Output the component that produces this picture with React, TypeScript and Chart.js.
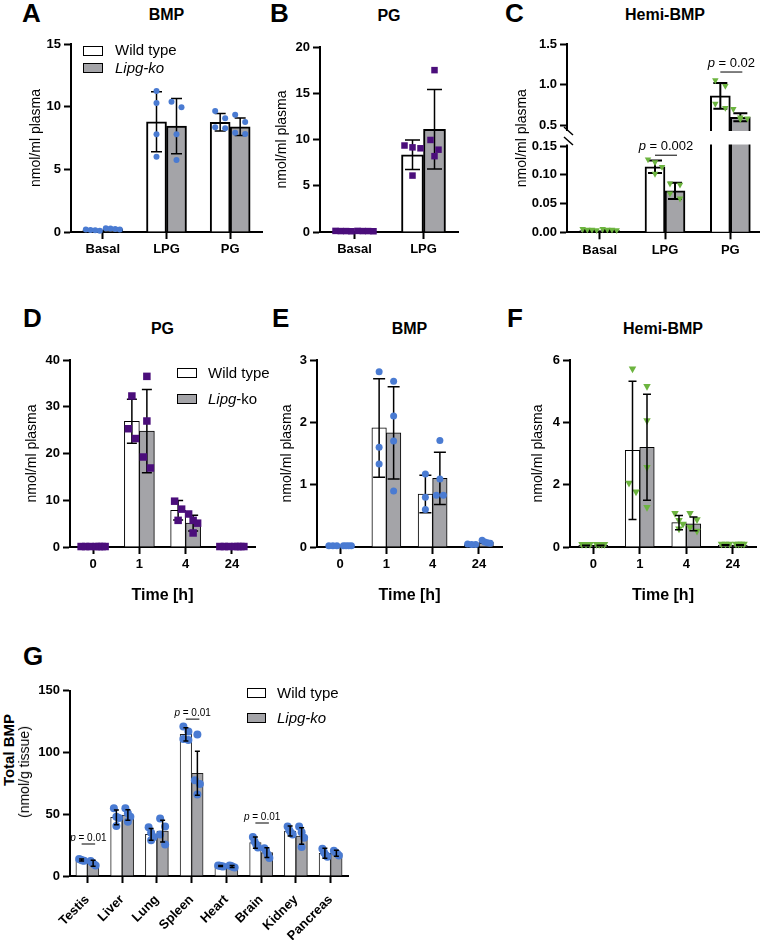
import React, { useEffect, useRef } from 'react';
import { Chart, registerables, LinearScale } from 'chart.js';

Chart.register(...registerables);

const FAM = "'Liberation Sans', Arial, Helvetica, sans-serif";
Chart.defaults.font.family = FAM;
Chart.defaults.color = '#000';

const GRAY = '#a4a4a8';
const BLUE = '#4a7bd2';
const PURPLE = '#4b0e7b';
const GREEN = '#6cb43f';

// ---------------- DATA ----------------
// Panel A – BMP
const A_CATS = ['Basal', 'LPG', 'PG'];
const A_WT_MEAN = [0.15, 8.8, 8.75];
const A_WT_SD = [0.04, 2.4, 0.7];
const A_WT_PTS = [[0.2, 0.16, 0.13, 0.1], [11.25, 10.3, 7.8, 6.0], [9.65, 9.07, 8.35, 8.27]];
const A_KO_MEAN = [0.25, 8.45, 8.4];
const A_KO_SD = [0.05, 2.2, 0.7];
const A_KO_PTS = [[0.3, 0.27, 0.23, 0.2], [10.4, 9.95, 7.8, 5.75], [9.36, 8.78, 7.92, 7.82]];

// Panel B – PG
const B_CATS = ['Basal', 'LPG'];
const B_WT_MEAN = [0.1, 8.35];
const B_WT_SD = [0.05, 1.6];
const B_WT_PTS = [[0.12, 0.1, 0.1, 0.08], [9.35, 9.15, 9.05, 6.1]];
const B_KO_MEAN = [0.1, 11.1];
const B_KO_SD = [0.05, 4.3];
const B_KO_PTS = [[0.12, 0.1, 0.1, 0.08], [17.5, 9.95, 8.9, 8.2]];

// Panel C – Hemi-BMP (broken axis)
const C_CATS = ['Basal', 'LPG', 'PG'];
const C_WT_MEAN = [0.003, 0.114, 0.86];
const C_WT_SD = [0.001, 0.011, 0.16];
const C_WT_PTS = [[0.004, 0.003, 0.003, 0.002], [0.125, 0.12, 0.112, 0.1], [1.04, 0.97, 0.75, 0.7]];
const C_KO_MEAN = [0.003, 0.072, 0.595];
const C_KO_SD = [0.001, 0.014, 0.05];
const C_KO_PTS = [[0.004, 0.003, 0.003, 0.002], [0.083, 0.081, 0.066, 0.057], [0.685, 0.58, 0.57, 0.56]];
const C_Y_TICKS = [0, 0.05, 0.1, 0.15, 0.5, 1.0, 1.5];
const C_P_VALUES = [{ cat: 1, y: 0.134, text: 'p = 0.002' }, { cat: 2, y: 1.154, text: 'p = 0.02' }];

// Time course panels
const TIME_CATS = ['0', '1', '4', '24'];
// D – PG
const D_WT_MEAN = [0.1, 26.9, 7.85, 0.1];
const D_WT_SD = [0.05, 4.7, 2.1, 0.05];
const D_WT_PTS = [[0.1, 0.1, 0.1], [32.3, 25.3, 23.2], [9.8, 8.1, 5.7], [0.1, 0.1, 0.1]];
const D_KO_MEAN = [0.1, 24.8, 5.1, 0.1];
const D_KO_SD = [0.05, 8.9, 1.7, 0.05];
const D_KO_PTS = [[0.1, 0.1, 0.1, 0.1], [36.5, 26.95, 19.25, 16.9], [7.06, 5.7, 5.1, 3.0], [0.1, 0.1, 0.1, 0.1]];
// E – BMP
const E_WT_MEAN = [0.02, 1.91, 0.85, 0.04];
const E_WT_SD = [0.005, 0.79, 0.3, 0.01];
const E_WT_PTS = [[0.02, 0.02, 0.02], [2.81, 1.6, 1.33], [1.17, 0.8, 0.6], [0.05, 0.04, 0.04]];
const E_KO_MEAN = [0.02, 1.83, 1.1, 0.08];
const E_KO_SD = [0.005, 0.74, 0.42, 0.02];
const E_KO_PTS = [[0.02, 0.02, 0.02, 0.02], [2.66, 2.1, 1.7, 0.9], [1.71, 1.09, 0.83, 0.83], [0.11, 0.08, 0.07, 0.06]];
// F – Hemi-BMP
const F_WT_MEAN = [0.05, 3.1, 0.78, 0.06];
const F_WT_SD = [0.01, 2.22, 0.23, 0.01];
const F_WT_PTS = [[0.05, 0.05, 0.05], [5.68, 2.02, 1.74], [1.05, 0.82, 0.7, 0.55], [0.06, 0.06, 0.06]];
const F_KO_MEAN = [0.05, 3.2, 0.74, 0.06];
const F_KO_SD = [0.01, 1.7, 0.22, 0.01];
const F_KO_PTS = [[0.05, 0.05, 0.05, 0.05], [5.12, 4.02, 2.52, 1.24], [1.05, 0.85, 0.6, 0.48], [0.06, 0.06, 0.06, 0.06]];

// G – Total BMP in tissues
const G_CATS = ['Testis', 'Liver', 'Lung', 'Spleen', 'Heart', 'Brain', 'Kidney', 'Pancreas'];
const G_WT_MEAN = [13, 47.5, 33.7, 114.7, 8.1, 27, 36.4, 18.4];
const G_WT_SD = [0.8, 6, 4.7, 5.4, 0.5, 4.6, 4, 4];
const G_WT_PTS = [
  [13.8, 13.2, 12.6, 12.4], [54.8, 48, 47, 40.5], [39.5, 35, 31.5, 29], [121, 117, 111, 110],
  [8.6, 8.2, 7.9, 7.6], [31.5, 28, 25.5, 23], [40, 37, 35, 33.5], [22, 19, 17, 15.5],
];
const G_KO_MEAN = [10.3, 49.4, 36.4, 83.1, 7.6, 18.9, 32.4, 18.4];
const G_KO_SD = [2.4, 4.3, 8.8, 17.8, 0.8, 4, 6.7, 2.4];
const G_KO_PTS = [
  [12.2, 10.8, 9.6, 8.6], [54.8, 50.7, 48, 44], [46.5, 40, 33.5, 25.5], [114.5, 77.5, 74.5, 66],
  [8.4, 8, 7.2, 6.8], [22.5, 20.5, 17.5, 14.5], [40, 35.5, 31, 23.5], [20.5, 19, 18, 16.5],
];
const G_P_VALUES = [{ cat: 0, y: 25.9, text: 'p = 0.01' }, { cat: 3, y: 127, text: 'p = 0.01' }, { cat: 5, y: 42.9, text: 'p = 0.01' }];

// ---------------- Broken scale for panel C ----------------
const C_LOW_TOP = 0.15;
const C_HIGH_BOTTOM = 0.4136;
const C_MAX = 1.5;
const C_LOW_SHARE = 86.3 / 188.3;
const C_GAP_SHARE = 14 / 188.3;
const C_HIGH_SHARE = 1 - C_LOW_SHARE - C_GAP_SHARE;

function brokenDecimal(v: number) {
  if (v <= C_LOW_TOP) return (v / C_LOW_TOP) * C_LOW_SHARE;
  if (v >= C_HIGH_BOTTOM) return C_LOW_SHARE + C_GAP_SHARE + ((v - C_HIGH_BOTTOM) / (C_MAX - C_HIGH_BOTTOM)) * C_HIGH_SHARE;
  return C_LOW_SHARE + ((v - C_LOW_TOP) / (C_HIGH_BOTTOM - C_LOW_TOP)) * C_GAP_SHARE;
}
function brokenValue(d: number) {
  if (d <= C_LOW_SHARE) return (d / C_LOW_SHARE) * C_LOW_TOP;
  if (d >= C_LOW_SHARE + C_GAP_SHARE) return C_HIGH_BOTTOM + ((d - C_LOW_SHARE - C_GAP_SHARE) / C_HIGH_SHARE) * (C_MAX - C_HIGH_BOTTOM);
  return C_LOW_TOP + ((d - C_LOW_SHARE) / C_GAP_SHARE) * (C_HIGH_BOTTOM - C_LOW_TOP);
}

class BrokenLinearScale extends (LinearScale as any) {
  static id = 'brokenLinear';
  static defaults = (LinearScale as any).defaults;
  getPixelForValue(value: number) {
    return (this as any).getPixelForDecimal(brokenDecimal(value));
  }
  getValueForPixel(pixel: number) {
    return brokenValue((this as any).getDecimalForPixel(pixel));
  }
}
Chart.register(BrokenLinearScale as any);

// ---------------- Panel definitions ----------------
type Series = { mean: number[]; sd: number[]; pts: number[][] };
type Panel = {
  key: string; L: number; R: number; T: number; B: number;
  yTitleX?: number; yTitle?: string; xTitle?: string; xTitleY?: number; xLabelH?: number;
  cats: string[]; wt: Series; ko: Series;
  yMin: number; yMax: number; yStep?: number; yTicks?: number[]; yFmt?: (v: number) => string;
  broken?: boolean; bar: number; border: number; borderColor: string;
  marker: 'circle' | 'square' | 'tri'; color: string; size: number; spacing: number; spread: number;
  cap: number; errWidth: number; errOnTop: boolean;
  notes: { cat: number; y: number; text: string }[]; noteSize: number; noteGap: number;
  rot: number; xFont: number; xPad: number;
};

const PANELS: Panel[] = [
  {
    key: 'A', L: 71, R: 262, T: 44, B: 232, yTitleX: 36, yTitle: 'nmol/ml plasma', xLabelH: 30,
    cats: A_CATS, wt: { mean: A_WT_MEAN, sd: A_WT_SD, pts: A_WT_PTS }, ko: { mean: A_KO_MEAN, sd: A_KO_SD, pts: A_KO_PTS },
    yMin: 0, yMax: 15, yStep: 5, bar: 20, border: 2, borderColor: '#000',
    marker: 'circle', color: BLUE, size: 6, spacing: 10, spread: 7, cap: 11, errWidth: 1.5, errOnTop: false,
    notes: [], noteSize: 13, noteGap: 5, rot: 0, xFont: 13, xPad: 3,
  },
  {
    key: 'B', L: 320, R: 458, T: 47, B: 232, yTitleX: 282, yTitle: 'nmol/ml plasma', xLabelH: 30,
    cats: B_CATS, wt: { mean: B_WT_MEAN, sd: B_WT_SD, pts: B_WT_PTS }, ko: { mean: B_KO_MEAN, sd: B_KO_SD, pts: B_KO_PTS },
    yMin: 0, yMax: 20, yStep: 5, bar: 22, border: 2, borderColor: '#000',
    marker: 'square', color: PURPLE, size: 6.5, spacing: 8, spread: 8, cap: 15, errWidth: 1.5, errOnTop: false,
    notes: [], noteSize: 13, noteGap: 5, rot: 0, xFont: 13, xPad: 3,
  },
  {
    key: 'C', L: 567, R: 763, T: 44, B: 232.3, yTitleX: 522, yTitle: 'nmol/ml plasma', xLabelH: 30,
    cats: C_CATS, wt: { mean: C_WT_MEAN, sd: C_WT_SD, pts: C_WT_PTS }, ko: { mean: C_KO_MEAN, sd: C_KO_SD, pts: C_KO_PTS },
    yMin: 0, yMax: 1.5, yTicks: C_Y_TICKS, yFmt: (v) => (v < 0.2 ? v.toFixed(2) : v.toFixed(1)),
    broken: true, bar: 20, border: 2, borderColor: '#000',
    marker: 'tri', color: GREEN, size: 6.5, spacing: 10, spread: 7, cap: 14, errWidth: 2, errOnTop: false,
    notes: C_P_VALUES, noteSize: 13, noteGap: 5, rot: 0, xFont: 13, xPad: 3,
  },
  {
    key: 'D', L: 70, R: 255, T: 360, B: 547, yTitleX: 32.5, yTitle: 'nmol/ml plasma', xTitle: 'Time [h]', xTitleY: 595,
    cats: TIME_CATS, wt: { mean: D_WT_MEAN, sd: D_WT_SD, pts: D_WT_PTS }, ko: { mean: D_KO_MEAN, sd: D_KO_SD, pts: D_KO_PTS },
    yMin: 0, yMax: 40, yStep: 10, bar: 15, border: 1, borderColor: '#000',
    marker: 'square', color: PURPLE, size: 7.5, spacing: 7, spread: 4.5, cap: 10, errWidth: 1.5, errOnTop: false,
    notes: [], noteSize: 13, noteGap: 5, rot: 0, xFont: 13, xPad: 3,
  },
  {
    key: 'E', L: 317, R: 502, T: 360, B: 547, yTitleX: 287, yTitle: 'nmol/ml plasma', xTitle: 'Time [h]', xTitleY: 595,
    cats: TIME_CATS, wt: { mean: E_WT_MEAN, sd: E_WT_SD, pts: E_WT_PTS }, ko: { mean: E_KO_MEAN, sd: E_KO_SD, pts: E_KO_PTS },
    yMin: 0, yMax: 3, yStep: 1, bar: 14.5, border: 1, borderColor: '#000',
    marker: 'circle', color: BLUE, size: 7, spacing: 7, spread: 4, cap: 12, errWidth: 1.5, errOnTop: false,
    notes: [], noteSize: 13, noteGap: 5, rot: 0, xFont: 13, xPad: 3,
  },
  {
    key: 'F', L: 570, R: 756, T: 360, B: 547, yTitleX: 538, yTitle: 'nmol/ml plasma', xTitle: 'Time [h]', xTitleY: 595,
    cats: TIME_CATS, wt: { mean: F_WT_MEAN, sd: F_WT_SD, pts: F_WT_PTS }, ko: { mean: F_KO_MEAN, sd: F_KO_SD, pts: F_KO_PTS },
    yMin: 0, yMax: 6, yStep: 2, bar: 14.5, border: 1, borderColor: '#000',
    marker: 'tri', color: GREEN, size: 7.5, spacing: 7, spread: 4, cap: 8, errWidth: 1.5, errOnTop: true,
    notes: [], noteSize: 13, noteGap: 5, rot: 0, xFont: 13, xPad: 3,
  },
  {
    key: 'G', L: 70, R: 348, T: 690.7, B: 876, xLabelH: 80,
    cats: G_CATS, wt: { mean: G_WT_MEAN, sd: G_WT_SD, pts: G_WT_PTS }, ko: { mean: G_KO_MEAN, sd: G_KO_SD, pts: G_KO_PTS },
    yMin: 0, yMax: 150, yStep: 50, bar: 11.5, border: 1, borderColor: '#222',
    marker: 'circle', color: BLUE, size: 8, spacing: 5, spread: 2.5, cap: 5, errWidth: 1.5, errOnTop: true,
    notes: G_P_VALUES, noteSize: 10, noteGap: 3, rot: 45, xFont: 13, xPad: 9,
  },
];

// ---------------- Drawing helpers ----------------
function drawMarker(ctx: CanvasRenderingContext2D, shape: string, x: number, y: number, s: number) {
  ctx.beginPath();
  if (shape === 'circle') ctx.arc(x, y, s / 2, 0, Math.PI * 2);
  else if (shape === 'square') ctx.rect(x - s / 2, y - s / 2, s, s);
  else {
    const h = s * 0.9;
    ctx.moveTo(x - s / 2, y - h / 2);
    ctx.lineTo(x + s / 2, y - h / 2);
    ctx.lineTo(x, y + h / 2);
    ctx.closePath();
  }
  ctx.fill();
}

function layoutPoints(vals: number[], cx: number, ys: any, p: Panel) {
  const items = vals.map((v) => ({ py: ys.getPixelForValue(v) })).sort((a, b) => a.py - b.py);
  const thresh = p.size * 1.5;
  const out: { x: number; y: number }[] = [];
  let i = 0;
  while (i < items.length) {
    let j = i + 1;
    while (j < items.length && items[j].py - items[i].py < thresh) j++;
    const k = j - i;
    const sp = k > 1 ? Math.min(p.spacing, (2 * p.spread) / (k - 1)) : 0;
    for (let m = 0; m < k; m++) out.push({ x: cx + (m - (k - 1) / 2) * sp, y: items[i + m].py });
    i = j;
  }
  return out;
}

function drawPValue(ctx: CanvasRenderingContext2D, cx: number, baseY: number, text: string, size: number) {
  const first = text.slice(0, 1);
  const rest = text.slice(1);
  ctx.font = `italic ${size}px ${FAM}`;
  const w1 = ctx.measureText(first).width;
  ctx.font = `${size}px ${FAM}`;
  const w2 = ctx.measureText(rest).width;
  const x = cx - (w1 + w2) / 2;
  ctx.fillStyle = '#000';
  ctx.textAlign = 'left';
  ctx.textBaseline = 'alphabetic';
  ctx.font = `italic ${size}px ${FAM}`;
  ctx.fillText(first, x, baseY);
  ctx.font = `${size}px ${FAM}`;
  ctx.fillText(rest, x + w1, baseY);
}

function decorPlugin(p: Panel) {
  return {
    id: 'decor' + p.key,
    afterDatasetsDraw(chart: any) {
      const ctx: CanvasRenderingContext2D = chart.ctx;
      const ys = chart.scales.y;
      const xs = chart.scales.x;
      const area = chart.chartArea;
      ctx.save();
      if (p.broken) {
        const yTop = ys.getPixelForValue(C_HIGH_BOTTOM);
        const yBot = ys.getPixelForValue(C_LOW_TOP);
        ctx.fillStyle = '#fff';
        ctx.fillRect(area.left - 4, yTop - 1, area.right - area.left + 8, yBot - 1.5 - (yTop - 1));
        ctx.strokeStyle = '#000';
        ctx.lineWidth = 1.5;
        ctx.beginPath();
        ctx.moveTo(area.left - 3, yTop - 5);
        ctx.lineTo(area.left + 6, yTop + 3);
        ctx.moveTo(area.left - 3, yBot - 9);
        ctx.lineTo(area.left + 6, yBot - 1);
        ctx.stroke();
      }
      const sets = [p.wt, p.ko];
      const drawErr = () => {
        ctx.strokeStyle = '#000';
        ctx.lineWidth = p.errWidth;
        sets.forEach((s, di) => {
          const meta = chart.getDatasetMeta(di);
          s.mean.forEach((m, i) => {
            const cx = meta.data[i].x;
            const yHi = ys.getPixelForValue(m + s.sd[i]);
            const yLo = ys.getPixelForValue(m - s.sd[i]);
            ctx.beginPath();
            ctx.moveTo(cx, yHi);
            ctx.lineTo(cx, yLo);
            ctx.moveTo(cx - p.cap / 2, yHi);
            ctx.lineTo(cx + p.cap / 2, yHi);
            ctx.moveTo(cx - p.cap / 2, yLo);
            ctx.lineTo(cx + p.cap / 2, yLo);
            ctx.stroke();
          });
        });
      };
      const drawPts = () => {
        ctx.fillStyle = p.color;
        sets.forEach((s, di) => {
          const meta = chart.getDatasetMeta(di);
          s.pts.forEach((vals, i) => {
            const cx = meta.data[i].x;
            layoutPoints(vals, cx, ys, p).forEach((pt) => drawMarker(ctx, p.marker, pt.x, pt.y, p.size));
          });
        });
      };
      if (p.errOnTop) {
        drawPts();
        drawErr();
      } else {
        drawErr();
        drawPts();
      }
      p.notes.forEach((n) => {
        const x0 = chart.getDatasetMeta(0).data[n.cat].x;
        const x1 = chart.getDatasetMeta(1).data[n.cat].x;
        const py = ys.getPixelForValue(n.y);
        ctx.strokeStyle = '#000';
        ctx.lineWidth = 1;
        ctx.beginPath();
        ctx.moveTo(x0, py);
        ctx.lineTo(x1 + 2, py);
        ctx.stroke();
        drawPValue(ctx, xs.getPixelForValue(n.cat) + 1, py - p.noteGap, n.text, p.noteSize);
      });
      ctx.restore();
    },
  };
}

function geometry(p: Panel) {
  const left = p.yTitleX !== undefined ? Math.round(p.yTitleX - 8.4) : p.L - 45;
  const top = Math.round(p.T - 12);
  const right = Math.ceil(p.R + 12);
  const bottomTarget = p.xTitle ? (p.xTitleY as number) + 9.6 : p.B + (p.xLabelH as number);
  const width = right - left;
  const height = Math.round(bottomTarget - top);
  return { left, top, width, height, yW: p.L - left, padT: p.T - top, padR: right - p.R, xH: top + height - p.B };
}

function ChartPanel({ p }: { p: Panel }) {
  const ref = useRef<HTMLCanvasElement>(null);
  const g = geometry(p);
  useEffect(() => {
    const yScale: any = {
      type: p.broken ? 'brokenLinear' : 'linear',
      min: p.yMin,
      max: p.yMax,
      ticks: {
        font: { size: 13, weight: 'bold' },
        color: '#000',
        padding: 3,
      },
      grid: { display: true, drawOnChartArea: false, drawTicks: true, tickLength: 7, tickWidth: 2, tickColor: '#000' },
      border: { display: true, color: '#000', width: 2 },
      title: p.yTitle
        ? { display: true, text: p.yTitle, font: { size: 14 }, color: '#000', padding: 0 }
        : { display: false },
      afterFit: (s: any) => {
        s.width = g.yW;
      },
    };
    if (p.yStep) yScale.ticks.stepSize = p.yStep;
    if (p.yFmt) yScale.ticks.callback = (v: any) => (p.yFmt as any)(Number(v));
    if (p.yTicks) {
      yScale.afterBuildTicks = (s: any) => {
        s.ticks = (p.yTicks as number[]).map((v) => ({ value: v }));
      };
    }
    const xScale: any = {
      type: 'category',
      offset: true,
      grid: { display: true, offset: false, drawOnChartArea: false, drawTicks: true, tickLength: 7, tickWidth: 2, tickColor: '#000' },
      border: { display: true, color: '#000', width: 2 },
      ticks: {
        font: { size: p.xFont, weight: 'bold' },
        color: '#000',
        padding: p.xPad,
        autoSkip: false,
        maxRotation: p.rot,
        minRotation: p.rot,
      },
      title: p.xTitle
        ? { display: true, text: p.xTitle, font: { size: 16, weight: 'bold' }, color: '#000', padding: 0 }
        : { display: false },
      afterFit: (s: any) => {
        s.height = g.xH;
      },
    };
    const chart = new Chart(ref.current as HTMLCanvasElement, {
      type: 'bar',
      data: {
        labels: p.cats,
        datasets: [
          {
            label: 'Wild type',
            data: p.wt.mean,
            backgroundColor: '#ffffff',
            borderColor: p.borderColor,
            borderWidth: p.border,
            borderSkipped: 'start',
            barThickness: p.bar,
          },
          {
            label: 'Lipg-ko',
            data: p.ko.mean,
            backgroundColor: GRAY,
            borderColor: p.borderColor,
            borderWidth: p.border,
            borderSkipped: 'start',
            barThickness: p.bar,
          },
        ],
      } as any,
      options: {
        animation: false,
        responsive: false,
        events: [],
        layout: { padding: { left: 0, top: g.padT, right: g.padR, bottom: 0 } },
        plugins: { legend: { display: false }, title: { display: false }, tooltip: { enabled: false } },
        scales: { x: xScale, y: yScale },
      } as any,
      plugins: [decorPlugin(p) as any],
    });
    return () => chart.destroy();
  }, []);
  return (
    <canvas
      ref={ref}
      width={g.width}
      height={g.height}
      style={{ position: 'absolute', left: g.left, top: g.top, width: g.width, height: g.height }}
    />
  );
}

// ---------------- HTML text overlays ----------------
function Txt(props: { x: number; base: number; size: number; bold?: boolean; italic?: boolean; center?: boolean; children: any }) {
  const { x, base, size, bold, italic, center, children } = props;
  return (
    <div
      style={{
        position: 'absolute',
        left: x,
        top: base - 0.8465 * size,
        transform: center ? 'translateX(-50%)' : undefined,
        fontFamily: FAM,
        fontSize: size,
        lineHeight: '1',
        fontWeight: bold ? 'bold' : 'normal',
        fontStyle: italic ? 'italic' : 'normal',
        whiteSpace: 'nowrap',
        color: '#000',
      }}
    >
      {children}
    </div>
  );
}

function Box({ x, y, w, h, fill }: { x: number; y: number; w: number; h: number; fill: string }) {
  return (
    <div
      style={{
        position: 'absolute', left: x, top: y, width: w, height: h, background: fill,
        border: '1.5px solid #000', boxSizing: 'border-box',
      }}
    />
  );
}

function RotTxt({ cx, cy, size, bold, children }: { cx: number; cy: number; size: number; bold?: boolean; children: any }) {
  return (
    <div
      style={{
        position: 'absolute', left: cx, top: cy, transform: 'translate(-50%, -50%) rotate(-90deg)',
        fontFamily: FAM, fontSize: size, lineHeight: '1', fontWeight: bold ? 'bold' : 'normal',
        whiteSpace: 'nowrap', color: '#000',
      }}
    >
      {children}
    </div>
  );
}

const LETTERS = [
  { t: 'A', x: 22, base: 22 }, { t: 'B', x: 270, base: 22 }, { t: 'C', x: 505, base: 22 },
  { t: 'D', x: 23, base: 327 }, { t: 'E', x: 272, base: 327 }, { t: 'F', x: 507, base: 327 },
  { t: 'G', x: 23, base: 665 },
];
const TITLES = [
  { t: 'BMP', p: 0, base: 21 }, { t: 'PG', p: 1, base: 22 }, { t: 'Hemi-BMP', p: 2, base: 21 },
  { t: 'PG', p: 3, base: 335 }, { t: 'BMP', p: 4, base: 335 }, { t: 'Hemi-BMP', p: 5, base: 335 },
];

export default function App() {
  return (
    <div style={{ position: 'absolute', left: 0, top: 0, width: 760, height: 940, overflow: 'hidden', background: '#fff' }}>
      {PANELS.map((p) => (
        <ChartPanel key={p.key} p={p} />
      ))}
      {LETTERS.map((l) => (
        <Txt key={l.t} x={l.x} base={l.base} size={26} bold>
          {l.t}
        </Txt>
      ))}
      {TITLES.map((t, i) => (
        <Txt key={i} x={(PANELS[t.p].L + PANELS[t.p].R) / 2} base={t.base} size={16} bold center>
          {t.t}
        </Txt>
      ))}
      {/* Legend A */}
      <Box x={83} y={46} w={20} h={10} fill="#fff" />
      <Box x={83} y={63} w={20} h={10} fill={GRAY} />
      <Txt x={115} base={55} size={15}>Wild type</Txt>
      <Txt x={115} base={73} size={15} italic>Lipg-ko</Txt>
      {/* Legend D */}
      <Box x={177} y={368} w={20} h={10} fill="#fff" />
      <Box x={177} y={394} w={20} h={10} fill={GRAY} />
      <Txt x={208} base={378} size={15}>Wild type</Txt>
      <Txt x={208} base={404} size={15}>
        <i>Lipg</i>-ko
      </Txt>
      {/* Legend G */}
      <Box x={247} y={688} w={19} h={10} fill="#fff" />
      <Box x={247} y={713} w={19} h={10} fill={GRAY} />
      <Txt x={277} base={698} size={15}>Wild type</Txt>
      <Txt x={277} base={723} size={15} italic>Lipg-ko</Txt>
      {/* G y-axis title */}
      <RotTxt cx={7.8} cy={750} size={15} bold>Total BMP</RotTxt>
      <RotTxt cx={24} cy={772} size={14}>(nmol/g tissue)</RotTxt>
    </div>
  );
}
